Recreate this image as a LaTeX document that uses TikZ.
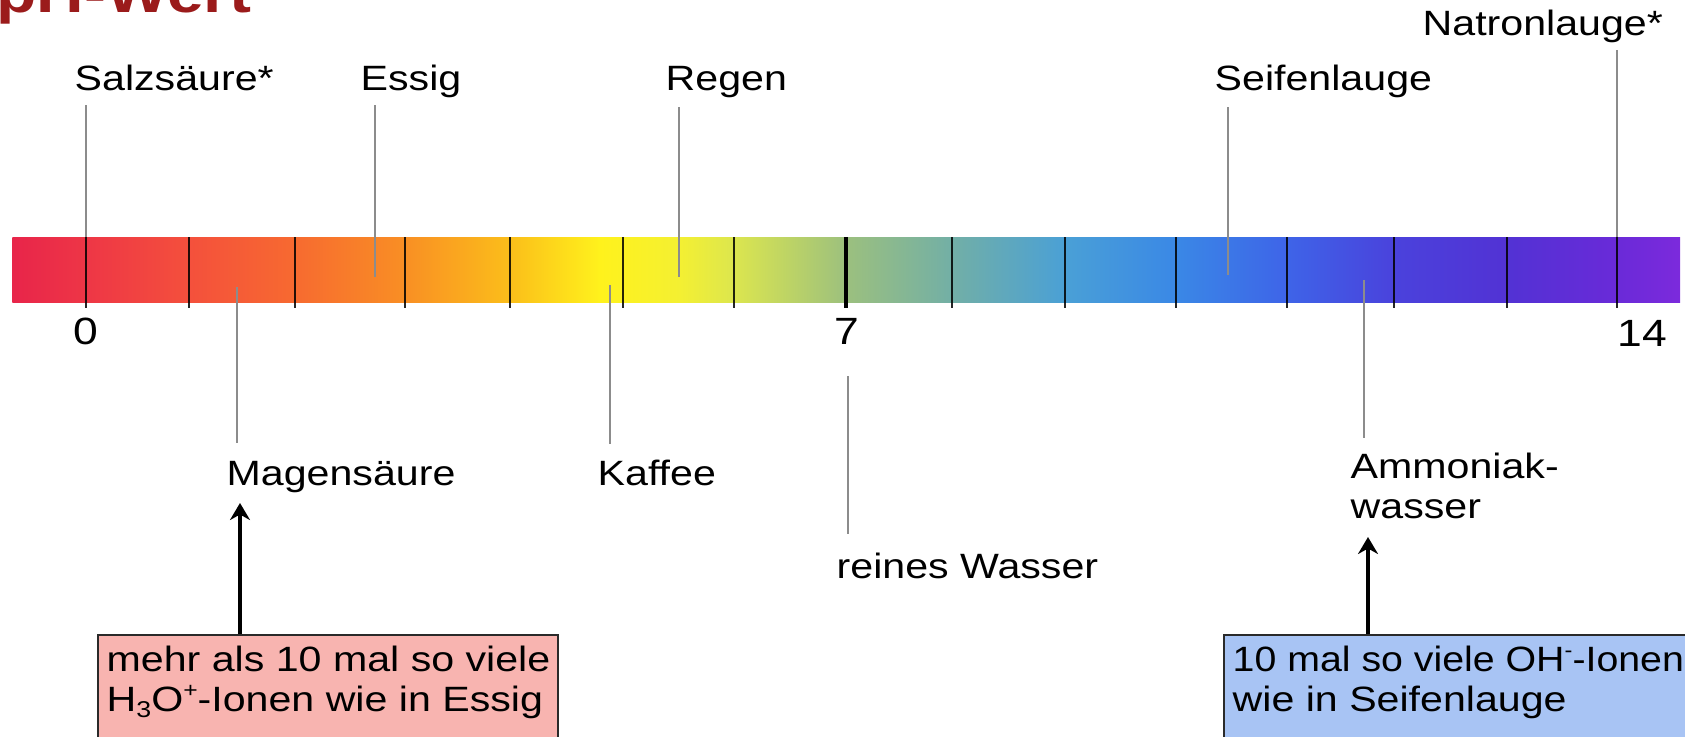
\documentclass[tikz,border=0pt]{standalone}
\usepackage{fontspec}
\setmainfont{Liberation Sans}[FakeStretch=1.17]
\usetikzlibrary{arrows.meta}
\definecolor{titlered}{HTML}{9B1B1B}
\definecolor{leadergray}{HTML}{8C8C8C}
\definecolor{boxpink}{HTML}{F8B4B0}
\definecolor{boxblue}{HTML}{A8C4F4}
\definecolor{boxedge}{HTML}{2A2A2A}
\definecolor{g0}{HTML}{E8254A}
\definecolor{g1}{HTML}{EE3646}
\definecolor{g2}{HTML}{F4503C}
\definecolor{g3}{HTML}{F76A30}
\definecolor{g4}{HTML}{F98F24}
\definecolor{g5}{HTML}{FBBE1A}
\definecolor{g6}{HTML}{FFF21C}
\definecolor{g7}{HTML}{F4F032}
\definecolor{g8}{HTML}{DCE64E}
\definecolor{g9}{HTML}{9CC07E}
\definecolor{g10}{HTML}{72AFA6}
\definecolor{g11}{HTML}{4AA0D6}
\definecolor{g12}{HTML}{3A88E6}
\definecolor{g13}{HTML}{3E64E8}
\definecolor{g14}{HTML}{4A42DC}
\definecolor{g15}{HTML}{5232D4}
\definecolor{g16}{HTML}{6A2AD8}
\definecolor{g17}{HTML}{7C2ADC}
\newcommand\labfont{\fontsize{10}{12}\selectfont}
\newcommand\numfont{\fontsize{10.8}{12}\selectfont}
\newcommand\smallsup[1]{\raisebox{0.75ex}{\fontsize{6}{7}\selectfont #1}}
\newcommand\smallsub[1]{\raisebox{-0.35ex}{\fontsize{6.5}{7}\selectfont #1}}
\begin{document}
\begin{tikzpicture}[x=0.01cm,y=-0.01cm,
  lab/.style={anchor=base west, inner sep=0pt, font=\labfont},
  num/.style={anchor=base, inner sep=0pt, font=\numfont},
  leader/.style={draw=leadergray, line width=0.45pt},
  tickline/.style={draw=black, draw opacity=0.85, line width=0.6pt},
  tickthick/.style={draw=black, line width=0.95pt},
  infobox/.style={anchor=north west, draw=boxedge, line width=0.6pt, minimum height=1.5cm, inner sep=0pt},
  uparrow/.style={draw=black, line width=0.9pt, -{Stealth[length=0.17cm,width=0.2cm]}}
]
\useasboundingbox (0,0) rectangle (1685,736);

% title (cut off at the top edge)
\node[anchor=base west, inner sep=0pt, text=titlered, font=\fontsize{16}{18}\selectfont\bfseries] (title) at (-4,12) {pH-Wert};

% colour bar
\foreach \xa/\ca/\xb/\cb in {13/g0/86/g1, 86/g1/189/g2, 189/g2/295/g3, 295/g3/405/g4, 405/g4/510/g5, 510/g5/600/g6, 600/g6/680/g7, 680/g7/734/g8, 734/g8/846/g9, 846/g9/952/g10, 952/g10/1065/g11, 1065/g11/1176/g12, 1176/g12/1287/g13, 1287/g13/1394/g14, 1394/g14/1507/g15, 1507/g15/1617/g16}
  \shade[left color=\ca, right color=\cb] (\xa-0.6,237) rectangle (\xb+0.6,302);
\shade[left color=g16, right color=g17] (1617,237) rectangle (1680,302);

% ticks
\foreach \x in {86,189,295,405,510,623,734,952,1065,1176,1287,1394,1507,1617}
  \draw[tickline] (\x,237) -- (\x,308);
\draw[tickthick] (846,237) -- (846,308);

% scale numbers
\node[num] (n0) at (86,344) {0};
\node[num] (n7) at (847,344) {7};
\node[num] (n14) at (1642,346) {14};

% labels above the bar
\node[lab] (salz) at (74,90) {Salzsäure*};
\node[lab] (essig) at (360,90) {Essig};
\node[lab] (regen) at (665,90) {Regen};
\node[lab] (seife) at (1214,90) {Seifenlauge};
\node[lab] (natron) at (1422,35) {Natronlauge*};

\coordinate (salzT) at (86,105);   \coordinate (salzB) at (86,237);
\coordinate (essigT) at (375,105); \coordinate (essigB) at (375,277);
\coordinate (regenT) at (679,107); \coordinate (regenB) at (679,277);
\coordinate (seifeT) at (1228,107); \coordinate (seifeB) at (1228,275);
\coordinate (natronT) at (1617,50); \coordinate (natronB) at (1617,237);
\draw[leader] (salzT) -- (salzB);
\draw[leader] (essigT) -- (essigB);
\draw[leader] (regenT) -- (regenB);
\draw[leader] (seifeT) -- (seifeB);
\draw[leader] (natronT) -- (natronB);

% labels below the bar
\node[lab] (magen) at (226,485) {Magensäure};
\node[lab] (kaffee) at (597,485) {Kaffee};
\node[lab] (wasser) at (836,578) {reines Wasser};
\node[lab] (ammo1) at (1350,478) {Ammoniak-};
\node[lab] (ammo2) at (1350,518) {wasser};

\coordinate (magenT) at (237,287);  \coordinate (magenB) at (237,443);
\coordinate (kaffeeT) at (610,285); \coordinate (kaffeeB) at (610,444);
\coordinate (wasserT) at (848,376); \coordinate (wasserB) at (848,534);
\coordinate (ammoT) at (1364,280);  \coordinate (ammoB) at (1364,438);
\draw[leader] (magenT) -- (magenB);
\draw[leader] (kaffeeT) -- (kaffeeB);
\draw[leader] (wasserT) -- (wasserB);
\draw[leader] (ammoT) -- (ammoB);

% info boxes
\node[infobox, fill=boxpink, minimum width=4.6cm] (boxL) at (97,634) {};
\node[infobox, fill=boxblue, minimum width=5cm] (boxR) at (1223,634) {};
\node[lab] (tL1) at (106,671) {mehr als 10 mal so viele};
\node[lab] (tL2) at (106,711) {H\smallsub{3}O\smallsup{+}-Ionen wie in Essig};
\node[lab] (tR1) at (1232,671) {\scalebox{0.955}[1]{10 mal so viele OH\smallsup{-}-Ionen}};
\node[lab] (tR2) at (1232,711) {wie in Seifenlauge};

% arrows
\coordinate (aL) at (240,503);
\coordinate (aR) at (1368,537);
\draw[uparrow] (boxL.north -| aL) -- (aL);
\draw[uparrow] (boxR.north -| aR) -- (aR);
\end{tikzpicture}
\end{document}
